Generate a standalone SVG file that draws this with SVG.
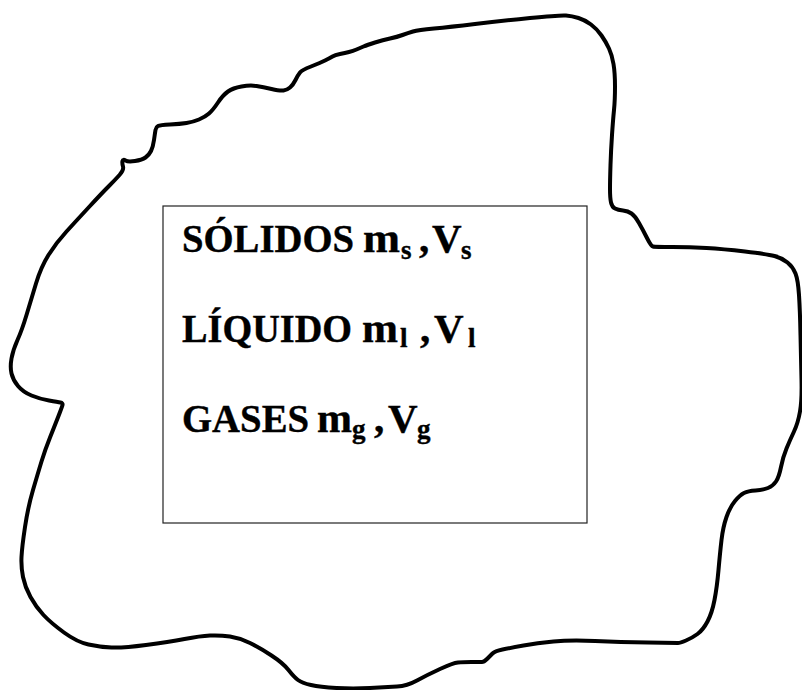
<svg xmlns="http://www.w3.org/2000/svg" width="802" height="690" viewBox="0 0 802 690">
<style>
  .blob { fill: none; stroke: #000; stroke-width: 4; stroke-linejoin: round; stroke-linecap: round; }
  .box { fill: #fff; stroke: #222; stroke-width: 1.2; }
  .t { font-family: "Liberation Serif", "Times New Roman", serif; font-weight: bold; font-size: 41px; fill: #000; stroke: #000; stroke-width: 0.4; }
  .sub { font-size: 27px; }
</style>
<rect width="802" height="690" fill="#fff"/>
<g id="boundary">
  <path class="blob" d="M363.5,46.5 Q367,45 375,42.5 Q383,40 390,38.5 Q397,37 402.5,35 Q408,33 413,31.5 Q418,30 434,28.5 Q450,27 475,24 Q500,21 530,18 Q560,15 566,15.5 Q572,16 578.5,18 Q585,20 591,24.5 Q597,29 601.5,35.5 Q606,42 609,48.5 Q612,55 613.5,64 Q615,73 615,86.5 Q615,100 614,110 Q613,120 612,135 Q611,150 610.5,165 Q610,180 610,189 Q610,198 611,202.5 Q612,207 615,208.5 Q618,210 623,210.5 Q628,211 631.5,213.5 Q635,216 639,223 Q643,230 647,238 Q651,246 653,246.5 Q655,247 672.5,247 Q690,247 706.5,248 Q723,249 745,251.5 Q767,254 774.5,256 Q782,258 787.5,262.5 Q793,267 795.5,273.5 Q798,280 799,295 Q800,310 800.5,335 Q801,360 801.5,380 Q802,400 800,411.5 Q798,423 794,431.5 Q790,440 786.5,448.5 Q783,457 781,467 Q779,477 776,481.5 Q773,486 768,488 Q763,490 755.5,490.5 Q748,491 744,493 Q740,495 735,501 Q730,507 726.5,517 Q723,527 721.5,540 Q720,553 718.5,570 Q717,587 714.5,600 Q712,613 707.5,621.5 Q703,630 697.5,634 Q692,638 686,640.5 Q680,643 678,643 Q676,643 648,642.5 Q620,642 595,641 Q570,640 553.5,641.5 Q537,643 523.5,645.5 Q510,648 502.5,649.5 Q495,651 492.5,653.5 Q490,656 487,659 Q484,662 482,662 Q480,662 471.5,662 Q463,662 458,662.5 Q453,663 440,669 Q427,675 417,680.5 Q407,686 397,686.5 Q387,687 370,688 Q353,689 336.5,688 Q320,687 311,685 Q302,683 298,680 Q294,677 288.5,670 Q283,663 271.5,655.5 Q260,648 250,643 Q240,638 230,636.5 Q220,635 210,635.5 Q200,636 184.5,639 Q169,642 146,645 Q123,648 111.5,647.5 Q100,647 88.5,644.5 Q77,642 64,632.5 Q51,623 43.5,615 Q36,607 30.5,597 Q25,587 23,577 Q21,567 21.5,557 Q22,547 25,527 Q28,507 33,490 Q38,473 41.5,461.5 Q45,450 50,437.5 Q55,425 58.5,416 Q62,407 62.5,405 Q63,403 60.5,402.5 Q58,402 49,400.5 Q40,399 31.5,395.5 Q23,392 18,386 Q13,380 11.5,373.5 Q10,367 11.5,358.5 Q13,350 17.5,340 Q22,330 26.5,315 Q31,300 36,283.5 Q41,267 48.5,255 Q56,243 66.5,231.5 Q77,220 89.5,206.5 Q102,193 108.5,186.5 Q115,180 119.5,175 Q124,170 123,166.5 Q122,163 122.5,161 Q123,159 125.5,160.5 Q128,162 135,161 Q142,160 145.5,157.5 Q149,155 151,151 Q153,147 154,140 Q155,133 155.5,130 Q156,127 158,126 Q160,125 170,124.5 Q180,124 186.5,123 Q193,122 199,119.5 Q205,117 209,113.5 Q213,110 218,102.5 Q223,95 228,91.5 Q233,88 241.5,86.5 Q250,85 256.5,86 Q263,87 271.5,89 Q280,91 283.5,90.5 Q287,90 290,87.5 Q293,85 295.5,80 Q298,75 300,72.5 Q302,70 311,66.5 Q320,63 325,60.5 Q330,58 332.5,56.5 Q335,55 340,54 Q345,53 349,52 Q353,51 356.5,49.5 Q360,48 363.5,46.5 Z"/>
</g>
<g id="phases">
  <rect class="box" x="163" y="206" width="424" height="317"/>
  <text class="t" x="182" y="252" textLength="172" lengthAdjust="spacingAndGlyphs">SÓLIDOS</text>
  <text class="t" x="363" y="252" textLength="37" lengthAdjust="spacingAndGlyphs">m</text>
  <text class="t sub" x="401" y="259">s</text>
  <text class="t" x="419" y="252">,</text>
  <text class="t" x="432" y="252">V</text>
  <text class="t sub" x="461" y="259">s</text>

  <text class="t" x="182" y="342" textLength="170" lengthAdjust="spacingAndGlyphs">LÍQUIDO</text>
  <text class="t" x="362" y="342" textLength="36" lengthAdjust="spacingAndGlyphs">m</text>
  <text class="t sub" x="400" y="347">l</text>
  <text class="t" x="420" y="342">,</text>
  <text class="t" x="434" y="342">V</text>
  <text class="t sub" x="468" y="347">l</text>

  <text class="t" x="182" y="432" textLength="127" lengthAdjust="spacingAndGlyphs">GASES</text>
  <text class="t" x="317" y="432" textLength="35" lengthAdjust="spacingAndGlyphs">m</text>
  <text class="t sub" x="352" y="438">g</text>
  <text class="t" x="374" y="432">,</text>
  <text class="t" x="388" y="432">V</text>
  <text class="t sub" x="417" y="438">g</text>
</g>
</svg>
